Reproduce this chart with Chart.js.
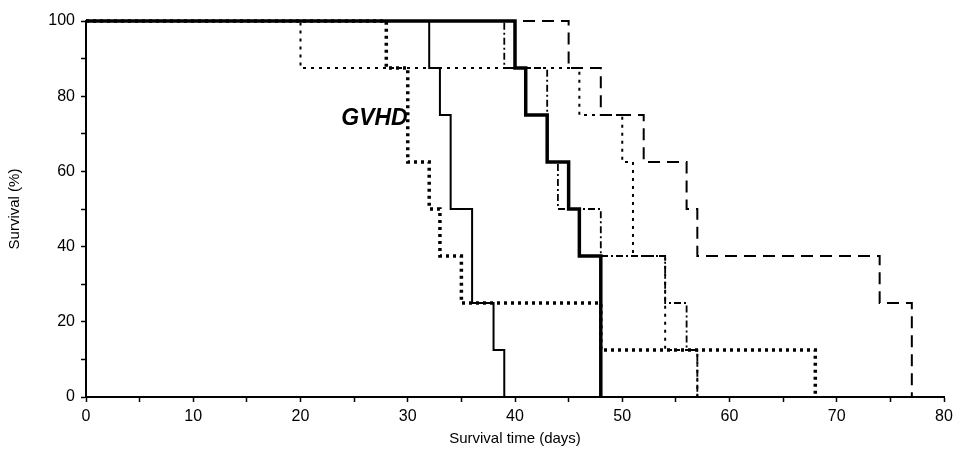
<!DOCTYPE html>
<html>
<head>
<meta charset="utf-8">
<title>Survival</title>
<script src="https://cdn.jsdelivr.net/npm/chart.js@4.4.1/dist/chart.umd.min.js"></script>
<style>
  html, body { margin: 0; padding: 0; background: #fff; }
  #wrap { width: 963px; height: 455px; position: relative; }
</style>
</head>
<body>
<div id="wrap"><canvas id="myChart"></canvas></div>
<script>
// Kaplan-Meier curves: day of each step and survival (%) after it
const thinSolidDays = [0, 32, 33, 34, 36, 38, 39];
const thinSolidSurv = [100, 87.5, 75, 50, 25, 12.5, 0];

const thickDotDays = [0, 28, 30, 32, 33, 35, 48, 68];
const thickDotSurv = [100, 87.5, 62.5, 50, 37.5, 25, 12.5, 0];

const fineDotDays = [0, 20, 46, 50, 51, 54, 57];
const fineDotSurv = [100, 87.5, 75, 62.5, 37.5, 12.5, 0];

const dashDotDays = [0, 39, 43, 44, 48, 54, 56, 57];
const dashDotSurv = [100, 87.5, 62.5, 50, 37.5, 25, 12.5, 0];

const thickSolidDays = [0, 40, 41, 43, 45, 46, 48];
const thickSolidSurv = [100, 87.5, 75, 62.5, 50, 37.5, 0];

const longDashDays = [0, 45, 48, 52, 56, 57, 74, 77];
const longDashSurv = [100, 87.5, 75, 62.5, 50, 37.5, 25, 0];

const xTicks = [0, 10, 20, 30, 40, 50, 60, 70, 80];
const yTicks = [0, 20, 40, 60, 80, 100];

const FONT = "'Liberation Sans', Arial, sans-serif";

function pts(days, surv) {
    return days.map((d, i) => ({ x: d, y: surv[i] }));
}

function curve(days, surv, width, dash) {
    return {
        data: pts(days, surv),
        borderColor: '#000',
        borderWidth: width,
        borderDash: dash,
        borderCapStyle: 'butt',
        borderJoinStyle: 'miter',
        stepped: 'before',
        pointRadius: 0,
        fill: false,
        clip: 4
    };
}

// GVHD label, placed in data units
const gvhdLabel = {
    id: 'gvhdLabel',
    afterDatasetsDraw(chart) {
        const { ctx, scales } = chart;
        ctx.save();
        ctx.font = 'italic bold 23px ' + FONT;
        ctx.fillStyle = '#000';
        ctx.textAlign = 'center';
        ctx.textBaseline = 'middle';
        ctx.fillText('GVHD', scales.x.getPixelForValue(26.9), scales.y.getPixelForValue(74));
        ctx.restore();
    }
};

const ctx = document.getElementById('myChart');

new Chart(ctx, {
    type: 'line',
    data: {
        datasets: [
            curve(fineDotDays, fineDotSurv, 2, [3, 5]),
            curve(dashDotDays, dashDotSurv, 1.8, [7, 3, 2, 3]),
            curve(longDashDays, longDashSurv, 2, [12, 7]),
            curve(thickDotDays, thickDotSurv, 3.5, [3, 4]),
            curve(thinSolidDays, thinSolidSurv, 2, []),
            curve(thickSolidDays, thickSolidSurv, 3.5, [])
        ]
    },
    options: {
        responsive: true,
        maintainAspectRatio: false,
        animation: false,
        events: [],
        layout: { padding: { top: 21, right: 19, left: 0, bottom: 0 } },
        plugins: {
            legend: { display: false },
            tooltip: { enabled: false }
        },
        scales: {
            x: {
                type: 'linear',
                min: 0,
                max: 80,
                afterFit: (s) => { s.height = 58; },
                border: { display: true, color: '#000', width: 2 },
                grid: { drawOnChartArea: false, drawTicks: true, tickLength: 5, tickColor: '#000', tickWidth: 1.5 },
                ticks: {
                    stepSize: 5,
                    autoSkip: false,
                    maxRotation: 0,
                    padding: 5,
                    color: '#000',
                    font: { family: FONT, size: 16 },
                    callback: (v) => xTicks.includes(v) ? String(v) : ''
                },
                title: {
                    display: true,
                    text: 'Survival time (days)',
                    color: '#000',
                    font: { family: FONT, size: 15 },
                    padding: { top: 0, bottom: 7 }
                }
            },
            y: {
                min: 0,
                max: 100,
                afterFit: (s) => { s.width = 86; },
                border: { display: true, color: '#000', width: 2 },
                grid: { drawOnChartArea: false, drawTicks: true, tickLength: 5, tickColor: '#000', tickWidth: 1.5 },
                ticks: {
                    stepSize: 10,
                    autoSkip: false,
                    padding: 6,
                    color: '#000',
                    font: { family: FONT, size: 16 },
                    callback: (v) => yTicks.includes(v) ? String(v) : ''
                },
                title: {
                    display: true,
                    text: 'Survival (%)',
                    color: '#000',
                    font: { family: FONT, size: 15 },
                    padding: { top: 6, bottom: 0 }
                }
            }
        }
    },
    plugins: [gvhdLabel]
});
</script>
</body>
</html>
